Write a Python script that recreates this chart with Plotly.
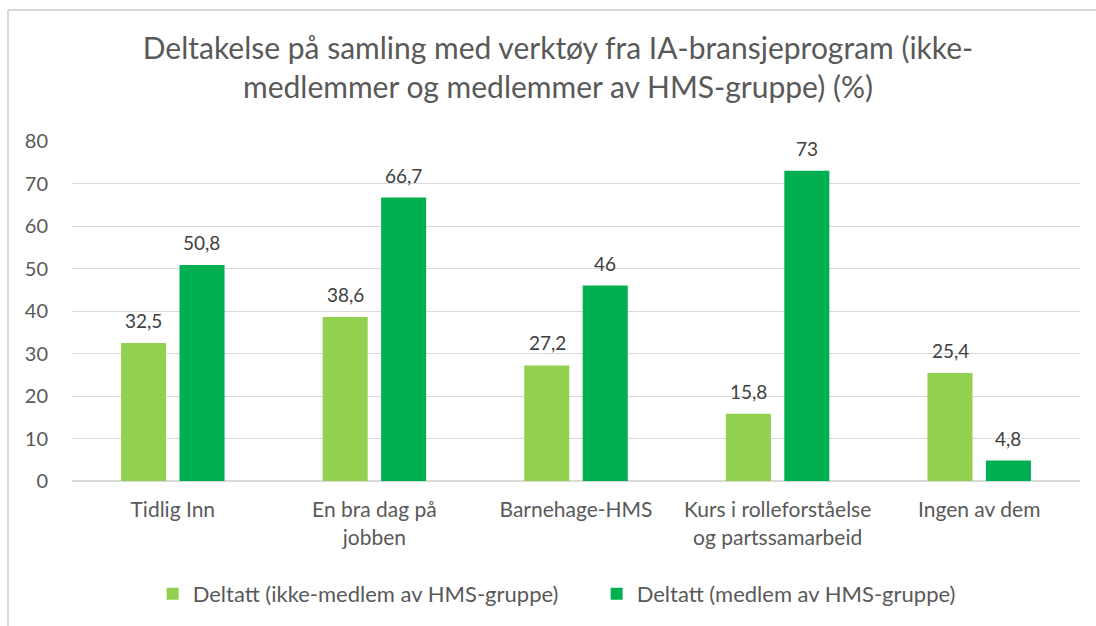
import plotly.graph_objects as go

categories = ["Tidlig Inn", "En bra dag på<br>jobben", "Barnehage-HMS",
              "Kurs i rolleforståelse<br>og partssamarbeid", "Ingen av dem"]
series_names = ["Deltatt (ikke-medlem av HMS-gruppe)", "Deltatt (medlem av HMS-gruppe)"]
ikke_medlem = [32.5, 38.6, 27.2, 15.8, 25.4]
medlem = [50.8, 66.7, 46, 73, 4.8]
colors = ["#92D050", "#00B050"]
title_text = "Deltakelse på samling med verktøy fra IA-bransjeprogram (ikke-<br>medlemmer og medlemmer av HMS-gruppe) (%)"

FONT = "Lato"
GRAY = "#595959"

def fmt(v):
    return f"{v:g}".replace(".", ",")

fig = go.Figure()
for name, vals, col in zip(series_names, [ikke_medlem, medlem], colors):
    fig.add_trace(go.Bar(
        x=categories, y=vals, name=name,
        marker=dict(color=col, line=dict(width=0)),
        hoverinfo="x+y",
    ))

# data labels, placed above each bar (offset to the bar's slot within its group)
slot_shift = 29
for vals, shift in zip([ikke_medlem, medlem], [-slot_shift, slot_shift]):
    for c, v in zip(categories, vals):
        fig.add_annotation(x=c, y=v, xref="x", yref="y", text=fmt(v), showarrow=False,
                           xshift=shift, yshift=9, yanchor="bottom",
                           font=dict(family=FONT, size=19, color="#404040"))

fig.update_layout(
    width=1096, height=626,
    paper_bgcolor="white", plot_bgcolor="white",
    margin=dict(l=72, r=16, t=141, b=145, autoexpand=False),
    barmode="group", bargap=0.42, bargroupgap=0.23,
    title=dict(text=title_text, x=558 / 1096, xanchor="center", xref="container",
               y=0.905, yanchor="top",
               font=dict(family=FONT, size=30, color=GRAY)),
    font=dict(family=FONT, color=GRAY),
    legend=dict(orientation="h", x=0.080, xanchor="left", y=-0.332, yanchor="middle",
                entrywidth=399, entrywidthmode="pixels",
                font=dict(family=FONT, size=22, color=GRAY), traceorder="normal"),
    xaxis=dict(showgrid=False, showline=True, linecolor="#D9D9D9", linewidth=1,
               ticks="", ticklabelstandoff=10,
               tickfont=dict(family=FONT, size=21, color=GRAY)),
    yaxis=dict(range=[0, 80], dtick=10, showgrid=True, gridcolor="#D9D9D9", gridwidth=1,
               zeroline=True, zerolinecolor="#D9D9D9", showline=False, ticks="",
               ticklabelstandoff=23,
               tickfont=dict(family=FONT, size=20, color=GRAY)),
    showlegend=True,
)

# chart frame (top and left edges visible)
x_left = (8 - 72) / 1008
y_top = (481 - 10) / 340
fig.add_shape(type="line", xref="paper", yref="paper", x0=x_left, x1=x_left, y0=-1, y1=y_top,
              line=dict(color="#D9D9D9", width=2))
fig.add_shape(type="line", xref="paper", yref="paper", x0=x_left, x1=1.2, y0=y_top, y1=y_top,
              line=dict(color="#D9D9D9", width=2))

fig.write_html("out.html", config={"displayModeBar": False},
               post_script="document.body.style.margin='0';document.body.style.overflow='hidden';")
